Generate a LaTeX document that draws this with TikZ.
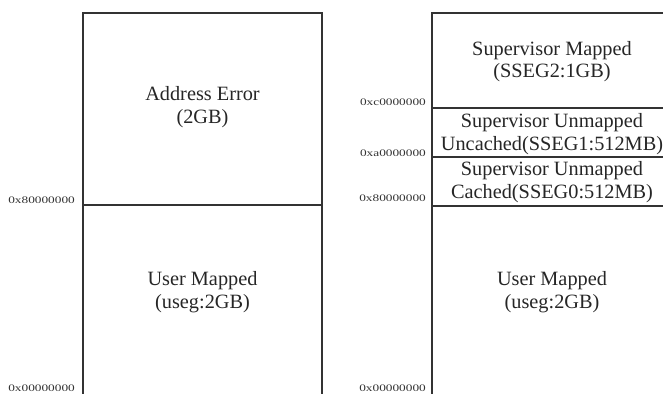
\documentclass[tikz,border=0pt]{standalone}
\usepackage{fontspec}
\setmainfont{Liberation Serif}
\begin{document}
\begin{tikzpicture}[x=1pt,y=-1pt,
  seg/.style={draw=black!80,line width=1.3pt},
  lbl/.style={align=center,inner sep=0pt,text=black!85,font=\fontsize{20.3}{22.6}\selectfont},
  addr/.style={anchor=east,inner sep=0pt,text=black!80,font=\fontsize{10}{10}\selectfont}]
\useasboundingbox (0,0) rectangle (663,393);
\clip (0,0) rectangle (663,393);
% left map
\coordinate (LTL) at (83,13); \coordinate (LTR) at (322,13);
\coordinate (LBL) at (83,400); \coordinate (LBR) at (322,400);
\coordinate (LML) at (83,205); \coordinate (LMR) at (322,205);
\draw[seg] (LBL) -- (LTL) -- (LTR) -- (LBR);
\draw[seg] (LML) -- (LMR);
\node[lbl] (ae) at (202.5,107) {Address Error\\(2GB)};
\node[lbl] (uml) at (202.5,292) {User Mapped\\(useg:2GB)};
\node[addr] (la8) at (75,200) {\scalebox{1.33}[1]{0x80000000}};
\node[addr] (la0) at (75,388) {\scalebox{1.33}[1]{0x00000000}};
% right map
\coordinate (RTL) at (432,13); \coordinate (RTR) at (672,13);
\coordinate (RBL) at (432,400);
\coordinate (RCL) at (432,108); \coordinate (RCR) at (672,108);
\coordinate (RAL) at (432,157); \coordinate (RAR) at (672,157);
\coordinate (R8L) at (432,206); \coordinate (R8R) at (672,206);
\draw[seg] (RBL) -- (RTL) -- (RTR);
\draw[seg] (RCL) -- (RCR);
\draw[seg] (RAL) -- (RAR);
\draw[seg] (R8L) -- (R8R);
\node[lbl] (sm) at (552,61.5) {Supervisor Mapped\\(SSEG2:1GB)};
\node[lbl] (suu) at (552,134) {Supervisor Unmapped\\Uncached(SSEG1:512MB)};
\node[lbl] (suc) at (552,182) {Supervisor Unmapped\\Cached(SSEG0:512MB)};
\node[lbl] (umr) at (552,292) {User Mapped\\(useg:2GB)};
\node[addr] (rac) at (426,102) {\scalebox{1.33}[1]{0xc0000000}};
\node[addr] (raa) at (426,153) {\scalebox{1.33}[1]{0xa0000000}};
\node[addr] (ra8) at (426,198) {\scalebox{1.33}[1]{0x80000000}};
\node[addr] (ra0) at (426,388) {\scalebox{1.33}[1]{0x00000000}};
\end{tikzpicture}
\end{document}
